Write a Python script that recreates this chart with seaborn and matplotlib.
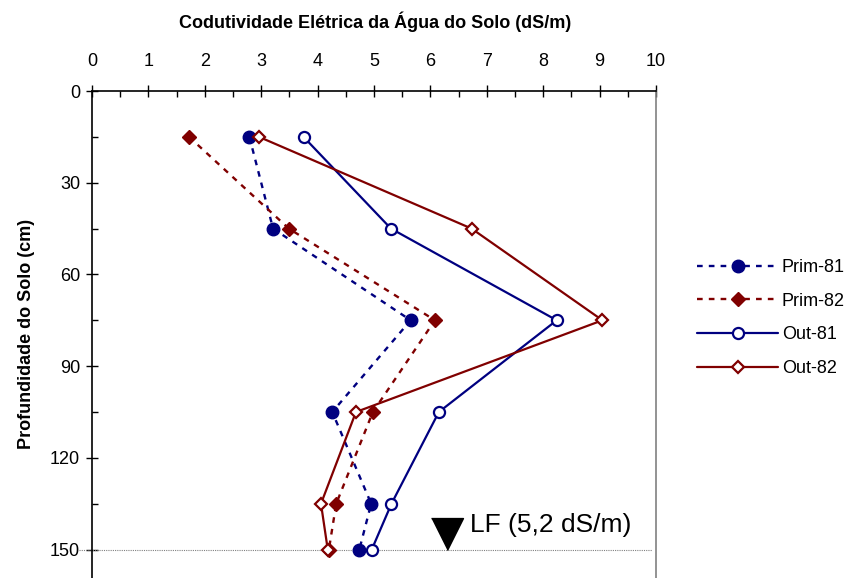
import matplotlib
matplotlib.use("Agg")
import matplotlib.pyplot as plt
import matplotlib.transforms as mtransforms
from matplotlib.ticker import MultipleLocator
import numpy as np
import pandas as pd
import seaborn as sns

# ---- data ----
depth = [15, 45, 75, 105, 135, 150]
prim_81 = [2.79, 3.21, 5.65, 4.26, 4.95, 4.74]
prim_82 = [1.72, 3.49, 6.08, 4.98, 4.33, 4.20]
out_81 = [3.75, 5.30, 8.24, 6.15, 5.31, 4.96]
out_82 = [2.96, 6.73, 9.05, 4.68, 4.06, 4.18]
series_names = ["Prim-81", "Prim-82", "Out-81", "Out-82"]
lf_value_x = 6.30
lf_depth = 150
lf_label = "LF (5,2 dS/m)"
x_ticks = list(range(0, 11))
y_ticks = [0, 30, 60, 90, 120, 150]

NAVY = "#000080"
MAROON = "#800000"

sns.set_theme(style="white")
plt.rcParams["font.family"] = ["Liberation Sans", "DejaVu Sans"]
plt.rcParams["text.color"] = "black"

fig = plt.figure(figsize=(8.56, 5.78), dpi=100)
ax = fig.add_axes([92 / 856, 0.0, (656 - 92) / 856, 487 / 578])

df = pd.DataFrame({"depth": depth, "Prim-81": prim_81, "Prim-82": prim_82,
                   "Out-81": out_81, "Out-82": out_82})

dash = (0, (2.4, 2.6))
styles = {
    "Prim-81": dict(color=NAVY, linestyle=dash, lw=1.7, marker="o", markersize=9,
                    markerfacecolor=NAVY, markeredgecolor=NAVY, markeredgewidth=1),
    "Prim-82": dict(color=MAROON, linestyle=dash, lw=1.7, marker="D", markersize=7.5,
                    markerfacecolor=MAROON, markeredgecolor=MAROON, markeredgewidth=1),
    "Out-81": dict(color=NAVY, linestyle="-", lw=1.6, marker="o", markersize=8,
                   markerfacecolor="white", markeredgecolor=NAVY, markeredgewidth=1.6),
    "Out-82": dict(color=MAROON, linestyle="-", lw=1.6, marker="D", markersize=6.5,
                   markerfacecolor="white", markeredgecolor=MAROON, markeredgewidth=1.6),
}

for name in series_names:
    sns.lineplot(data=df, x=name, y="depth", sort=False, estimator=None,
                 orient="y", ax=ax, label=name, **styles[name])

# LF marker and label
tri = [(-1, 2), (1, 2), (0, 0)]
ax.plot([lf_value_x], [lf_depth], marker=tri, markersize=46, color="black",
        linestyle="none", clip_on=False, zorder=5)
ax.text(6.71, 144.4, lf_label, fontsize=19, ha="left", va="baseline", color="black")

# dotted reference line at 150
trans = mtransforms.blended_transform_factory(ax.transAxes, ax.transData)
ax.plot([-0.023, 0.993], [lf_depth, lf_depth], transform=trans, color="#808080",
        lw=0.8, linestyle=(0, (1, 1)), clip_on=False, zorder=1)

ax.set_xlim(0, 10)
ax.set_ylim(159.3, 0)
ax.xaxis.tick_top()
ax.set_xticks(x_ticks)
ax.set_yticks(y_ticks)
ax.xaxis.set_minor_locator(MultipleLocator(0.5))
ax.yaxis.set_minor_locator(MultipleLocator(15))
ax.tick_params(axis="x", which="major", direction="inout", length=9, width=1,
               color="black", labelsize=13, pad=10.5, labelcolor="black",
               top=True, bottom=False)
ax.tick_params(axis="x", which="minor", direction="in", length=4.5, width=1,
               color="black", top=True, bottom=False)
ax.tick_params(axis="y", which="major", direction="inout", length=9, width=1,
               color="black", labelsize=13, pad=4, labelcolor="black", left=True)
ax.tick_params(axis="y", which="minor", direction="in", length=4.5, width=1,
               color="black", left=True)

for s in ["top", "left"]:
    ax.spines[s].set_color("black")
    ax.spines[s].set_linewidth(1.2)
ax.spines["right"].set_color("#808080")
ax.spines["right"].set_linewidth(1.2)
ax.spines["bottom"].set_visible(False)
ax.grid(False)
ax.set_xlabel("")
ax.set_ylabel("")

fig.text(375 / 856, 1 - 22 / 578, "Codutividade Elétrica da Água do Solo (dS/m)",
         fontsize=13, fontweight="bold", ha="center", va="center", color="black")
fig.text(27 / 856, 1 - 334 / 578, "Profundidade do Solo (cm)", fontsize=13,
         fontweight="bold", ha="center", va="center", rotation=90, color="black")

leg = ax.legend(loc="center left", bbox_to_anchor=(697 / 856, 1 - 318 / 578),
                bbox_transform=fig.transFigure, frameon=False, fontsize=13,
                handlelength=4.5, handletextpad=0.2, labelspacing=0.92,
                borderpad=0, borderaxespad=0, numpoints=1)
for t in leg.get_texts():
    t.set_color("black")

fig.savefig("out.png", dpi=100)
